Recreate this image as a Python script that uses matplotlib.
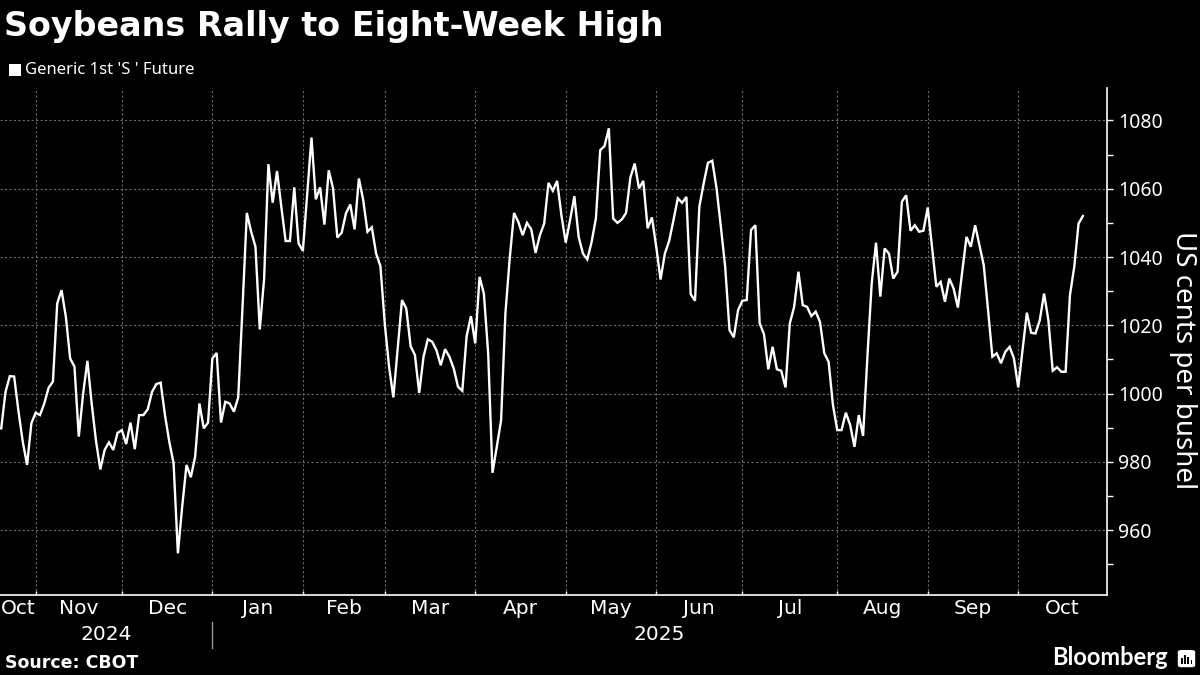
import numpy as np
import pandas as pd
import matplotlib
matplotlib.use("Agg")
import matplotlib.pyplot as plt
import matplotlib.transforms as mtransforms
from matplotlib import font_manager
from matplotlib.patches import Rectangle, FancyBboxPatch

# CBOT trading days (exchange holidays removed)
holidays = ["2024-11-28", "2024-12-25", "2025-01-01", "2025-01-20", "2025-02-17",
            "2025-04-18", "2025-05-26", "2025-06-19", "2025-07-04", "2025-09-01"]
dates = pd.bdate_range("2024-10-22", "2025-10-22", freq="C", holidays=holidays)

# Generic 1st soybean future, US cents per bushel
prices = [
    989.8, 1000.5, 1005.1, 1005.0, 994.9, 985.9, 979.1, 991.3, 994.4, 993.7,
    997.1, 1001.7, 1003.5, 1026.4, 1030.3, 1022.5, 1010.3, 1007.9, 987.4, 999.9,
    1009.6, 997.0, 986.1, 977.8, 983.5, 985.7, 983.5, 988.5, 989.3, 985.2,
    991.5, 983.7, 993.7, 993.7, 995.4, 1000.5, 1002.8, 1003.2, 993.7, 985.9,
    979.6, 953.2, 966.9, 979.1, 975.5, 981.5, 997.1, 989.8, 991.5, 1010.3,
    1011.9, 991.5, 997.6, 997.1, 994.7, 998.9, 1025.4, 1052.9, 1047.4, 1043.0,
    1018.8, 1033.5, 1067.2, 1055.9, 1065.2, 1054.7, 1044.7, 1044.7, 1060.4, 1044.0,
    1041.8, 1058.6, 1075.0, 1056.9, 1060.4, 1049.5, 1065.4, 1060.1, 1045.7, 1047.1,
    1052.8, 1055.4, 1048.1, 1063.0, 1056.7, 1047.4, 1048.7, 1041.0, 1037.3, 1020.6,
    1007.9, 998.9, 1013.1, 1027.4, 1024.9, 1013.9, 1011.3, 1000.2, 1010.8, 1015.9,
    1015.2, 1012.7, 1008.3, 1013.0, 1010.8, 1007.4, 1002.0, 1000.8, 1016.8, 1022.7,
    1014.7, 1034.2, 1029.3, 1011.8, 976.8, 984.4, 992.2, 1023.5, 1039.6, 1052.9,
    1050.3, 1046.4, 1050.0, 1048.1, 1041.2, 1046.4, 1049.8, 1061.7, 1059.4, 1062.3,
    1052.2, 1044.2, 1050.8, 1057.8, 1045.9, 1041.0, 1039.3, 1044.4, 1051.3, 1071.3,
    1072.5, 1077.7, 1051.3, 1050.0, 1051.0, 1052.9, 1063.3, 1067.4, 1060.1, 1062.3,
    1048.4, 1051.6, 1043.0, 1033.4, 1041.0, 1044.7, 1050.8, 1057.2, 1055.9, 1057.6,
    1029.1, 1027.2, 1054.7, 1061.5, 1067.6, 1068.2, 1060.1, 1048.8, 1037.1, 1018.6,
    1016.5, 1024.5, 1027.2, 1027.4, 1047.9, 1049.3, 1020.6, 1017.4, 1007.1, 1013.7,
    1007.1, 1006.7, 1001.8, 1020.6, 1025.4, 1035.7, 1025.9, 1025.4, 1022.7, 1024.0,
    1021.0, 1011.8, 1009.3, 996.7, 989.3, 989.3, 994.4, 990.8, 984.4, 993.7,
    987.6, 1010.8, 1032.3, 1044.2, 1028.4, 1042.5, 1041.0, 1033.7, 1035.7, 1056.2,
    1058.1, 1047.7, 1049.3, 1047.4, 1047.7, 1054.5, 1043.0, 1031.3, 1032.7, 1026.9,
    1033.7, 1030.8, 1025.2, 1035.7, 1045.9, 1043.0, 1049.3, 1043.5, 1037.6, 1024.5,
    1010.8, 1011.8, 1008.9, 1012.2, 1013.7, 1010.3, 1001.8, 1012.7, 1023.7, 1017.8,
    1017.6, 1021.5, 1029.3, 1021.5, 1006.7, 1007.7, 1006.4, 1006.4, 1028.8, 1037.1,
    1049.8, 1052.0,
]
yticks = [960, 980, 1000, 1020, 1040, 1060, 1080]

title = "Soybeans Rally to Eight-Week High"
legend_label = "Generic 1st 'S ' Future"
ylabel = "US cents per bushel"
source = "Source: CBOT"

n = len(prices)
x = np.arange(n)

names = {f.name for f in font_manager.fontManager.ttflist}
month_font = "Liberation Sans Narrow" if "Liberation Sans Narrow" in names else "DejaVu Sans"
label_font = "Noto Sans" if "Noto Sans" in names else "DejaVu Sans"

fig = plt.figure(figsize=(12, 6.75), dpi=100, facecolor="black")
ax = fig.add_axes([0.0, 0.1185, 0.9225, 0.7511], facecolor="black")

ax.plot(x, prices, color="white", lw=1.7, solid_joinstyle="miter")

xmin, xmax = -0.28, n - 1 + 5.6
ax.set_xlim(xmin, xmax)
ax.set_ylim(941, 1089.5)

# month boundaries -> vertical grid
bounds = [i for i in range(1, n) if dates[i].month != dates[i - 1].month]
ax.set_xticks(bounds)
ax.set_xticklabels([])
ax.tick_params(axis="x", direction="in", length=3, color="white", width=1)

ax.yaxis.tick_right()
ax.set_yticks(yticks)
ax.set_yticks(np.arange(950, 1090, 10), minor=True)
ax.tick_params(axis="y", which="both", direction="out", length=4, color="white",
               width=1, labelcolor="white", labelsize=14, pad=4)
for lab in ax.get_yticklabels():
    lab.set_fontfamily(label_font)

ax.grid(True, which="major", color="#6a6a6a", lw=0.8, linestyle=(0, (2, 2)))

for side in ["top", "left"]:
    ax.spines[side].set_visible(False)
for side in ["bottom", "right"]:
    ax.spines[side].set_color("white")
    ax.spines[side].set_linewidth(1.2)

# month and year labels
trans = mtransforms.blended_transform_factory(ax.transData, fig.transFigure)
edges = [xmin] + bounds + [xmax]
month_idx = [0] + bounds
for k, i in enumerate(month_idx):
    c = (edges[k] + edges[k + 1]) / 2
    ax.text(c, 0.0978, dates[i].strftime("%b"), transform=trans, color="white",
            ha="center", va="center", fontsize=14.5, family=month_font)

jan = [b for b in bounds if dates[b].month == 1][0]
ax.text((xmin + jan) / 2, 0.0607, str(dates[0].year), transform=trans, color="white",
        ha="center", va="center", fontsize=14.5, family=month_font)
ax.text((jan + xmax) / 2, 0.0607, str(dates[-1].year), transform=trans, color="white",
        ha="center", va="center", fontsize=14.5, family=month_font)
ax.plot([jan, jan], [0.04, 0.0785], transform=trans, color="#999999", lw=1,
        clip_on=False)

# titles and annotations
fig.text(0.003, 0.946, title, color="white", fontsize=24, fontweight="bold",
         family="DejaVu Sans", ha="left", va="baseline")
fig.patches.append(Rectangle((0.0078, 0.8874), 0.0098, 0.0185, transform=fig.transFigure,
                             facecolor="white", edgecolor="none"))
fig.text(0.021, 0.896, legend_label, color="white", fontsize=12, family=label_font,
         ha="left", va="center")
fig.text(0.986, 0.467, ylabel, color="white", fontsize=20, family=label_font,
         rotation=270, ha="center", va="center")
fig.text(0.004, 0.0104, source, color="white", fontsize=12.5, fontweight="bold",
         family="DejaVu Sans", ha="left", va="baseline")
fig.text(0.973, 0.0155, "Bloomberg", color="white", fontsize=17, fontweight="bold",
         family="Lato", ha="right", va="baseline")

# small logo mark
fig.patches.append(FancyBboxPatch((0.9815, 0.0115), 0.0145, 0.0255,
                                  boxstyle="round,pad=0,rounding_size=0.003",
                                  transform=fig.transFigure, facecolor="white",
                                  edgecolor="none"))
for bx, bh in [(0.9843, 0.008), (0.9869, 0.013), (0.9895, 0.010), (0.9921, 0.006)]:
    fig.patches.append(Rectangle((bx, 0.0165), 0.0014, bh, transform=fig.transFigure,
                                 facecolor="black", edgecolor="none"))

fig.savefig("out.png", dpi=100, facecolor="black")
